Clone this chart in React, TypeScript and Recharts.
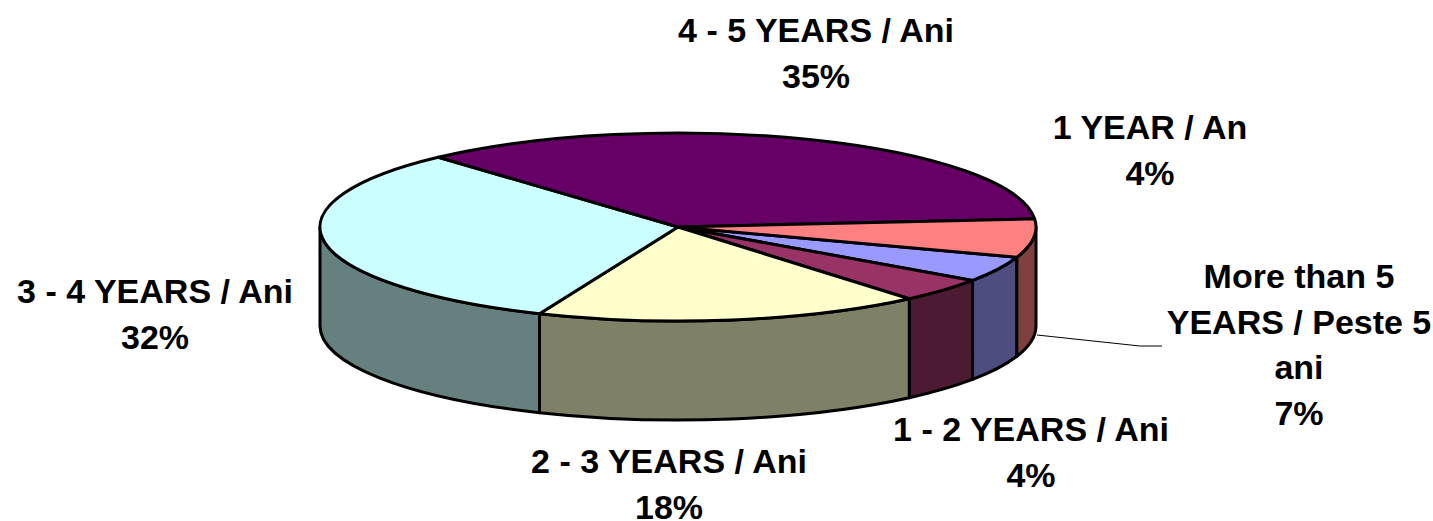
import React from "react";
import { PieChart, Pie, Cell, Customized } from "recharts";

const categories = ["1 YEAR / An", "1 - 2 YEARS / Ani", "2 - 3 YEARS / Ani", "3 - 4 YEARS / Ani", "4 - 5 YEARS / Ani", "More than 5 YEARS / Peste 5 ani"];
const shares = [4.4, 4.2, 17.5, 32, 35.3, 6.6];
const shareLabels = ["4%", "4%", "18%", "32%", "35%", "7%"];
const topColors = ["#9999FF", "#993366", "#FFFFCC", "#CCFFFF", "#660066", "#FF8080"];
const sideColors = ["#4D4D80", "#4D1A33", "#808066", "#668080", "#330033", "#804040"];
const labelLines = [["1 YEAR / An"], ["1 - 2 YEARS / Ani"], ["2 - 3 YEARS / Ani"], ["3 - 4 YEARS / Ani"], ["4 - 5 YEARS / Ani"], ["More than 5", "YEARS / Peste 5", "ani"]];
const labelAnchors = [[1150, 130], [1031, 432], [669, 464], [155, 294], [816, 33], [1299, 279]];

const RX = 358, RY = 94, DEPTH = 99;
const data = categories.map((name, i) => ({ name, value: shares[i], idx: i }));

const pt = (cx: number, cy: number, a: number) => {
  const r = (a * Math.PI) / 180;
  return [cx + RX * Math.cos(r), cy - RY * Math.sin(r)];
};

function Slice(props: any) {
  const { cx, cy, startAngle, endAngle, payload } = props;
  const i = payload.idx;
  const [x0, y0] = pt(cx, cy, startAngle);
  const [x1, y1] = pt(cx, cy, endAngle);
  const a = Math.min(startAngle, endAngle), b = Math.max(startAngle, endAngle);
  const large = b - a > 180 ? 1 : 0;
  const top = `M${cx},${cy} L${x0},${y0} A${RX},${RY} 0 ${large} 1 ${x1},${y1} Z`;
  const walls: React.ReactNode[] = [];
  for (const k of [-360, 0]) {
    const lo = Math.max(a, -180 + k), hi = Math.min(b, k);
    if (hi > lo) {
      const [xa, ya] = pt(cx, cy, hi);
      const [xb, yb] = pt(cx, cy, lo);
      walls.push(
        <path key={k} d={`M${xa},${ya} A${RX},${RY} 0 0 1 ${xb},${yb} L${xb},${yb + DEPTH} A${RX},${RY} 0 0 0 ${xa},${ya + DEPTH} Z`}
          fill={sideColors[i]} stroke="#000" strokeWidth={3} strokeLinejoin="round" />
      );
    }
  }
  return (
    <g>
      {walls}
      <path d={top} fill={topColors[i]} stroke="#000" strokeWidth={3} strokeLinejoin="round" />
    </g>
  );
}

function SliceLabels() {
  const style = { fontFamily: "'Liberation Sans', Arial, sans-serif", fontWeight: 700, fontSize: 34 };
  return (
    <g>
      <polyline points="1037,335 1140,346 1162,346" fill="none" stroke="#000" strokeWidth={1} />
      {labelLines.map((lines, i) => (
        <text key={i} x={labelAnchors[i][0]} y={labelAnchors[i][1]} textAnchor="middle" dominantBaseline="middle" fill="#000" style={style}>
          {[...lines, shareLabels[i]].map((l, j) => (
            <tspan key={j} x={labelAnchors[i][0]} y={labelAnchors[i][1] + j * 45.5}>{l}</tspan>
          ))}
        </text>
      ))}
    </g>
  );
}

export default function App() {
  return (
    <div style={{ position: "absolute", left: 0, top: 0, width: 1433, height: 521, background: "#fff" }}>
      <PieChart width={1433} height={521} margin={{ top: 0, right: 0, bottom: 0, left: 0 }}>
        <Pie
          data={data}
          dataKey="value"
          nameKey="name"
          cx={678}
          cy={227}
          outerRadius={RX}
          startAngle={-18.8}
          endAngle={-378.8}
          paddingAngle={0}
          isAnimationActive={false}
          shape={Slice}
          label={false}
          labelLine={false}
        >
          {data.map((d) => <Cell key={d.name} fill={topColors[d.idx]} />)}
        </Pie>
        <Customized component={SliceLabels} />
      </PieChart>
    </div>
  );
}
